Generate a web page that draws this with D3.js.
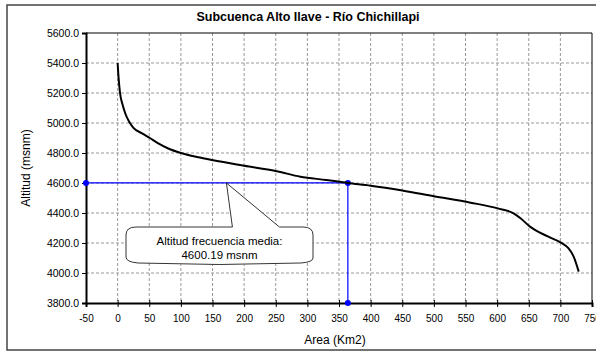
<html>
<head>
    <script src="https://d3js.org/d3.v7.min.js"></script>
</head>
<body style="margin:0; background:#fff;">
    <svg id="s" width="596" height="352"></svg>
    <script>
        // curva hipsometrica (area acumulada Km2, altitud msnm)
        const areas = [0, 1, 3.8, 8, 12, 18, 25, 40, 51, 65, 80, 100, 130, 160, 200, 250, 289, 330, 364,
                       400, 450, 500, 558, 601, 626, 637, 652, 681, 701, 713, 721, 729]
        const altitudes = [5400, 5330, 5200, 5120, 5065, 5010, 4968, 4928, 4900, 4862, 4830, 4800, 4770, 4745, 4715, 4680, 4642, 4620, 4600,
                           4582, 4550, 4512, 4469, 4431, 4398, 4365, 4309, 4242, 4202, 4164, 4109, 4009]
        const xTicks = d3.range(-50, 751, 50)
        const yTicks = d3.range(3800, 5601, 200)
        const mediaArea = 364
        const mediaAlt = 4600.19

        const FONT = "Liberation Sans, Arial, sans-serif"
        const L = 86, R = 592, T = 33, B = 303

        const svg = d3.select("svg")

        // outer frame
        svg.append("rect")
            .attr("x", 7).attr("y", 5)
            .attr("width", 600).attr("height", 345)
            .attr("fill", "#fff")
            .attr("stroke", "#444")
            .attr("stroke-width", 1.5)

        const x = d3.scaleLinear().domain([-50, 750]).range([L, R])
        const y = d3.scaleLinear().domain([3800, 5600]).range([B, T])

        // grid
        svg.append("g").selectAll("line")
            .data(xTicks.slice(1, -1))
            .enter().append("line")
            .attr("x1", d => x(d)).attr("x2", d => x(d))
            .attr("y1", T).attr("y2", B)
            .attr("stroke", "#999").attr("stroke-dasharray", "3,2")
        svg.append("g").selectAll("line")
            .data(yTicks.slice(1, -1))
            .enter().append("line")
            .attr("y1", d => y(d)).attr("y2", d => y(d))
            .attr("x1", L).attr("x2", R)
            .attr("stroke", "#999").attr("stroke-dasharray", "3,2")

        // top / right border
        svg.append("path")
            .attr("d", `M${L},${T}H${R}V${B}`)
            .attr("fill", "none").attr("stroke", "#000")

        // axes
        const yAxis = svg.append("g")
            .attr("transform", `translate(${L},0)`)
            .call(d3.axisLeft(y).tickValues(yTicks).tickFormat(d3.format(".1f")).tickSize(4).tickPadding(3))
        const xAxis = svg.append("g")
            .attr("transform", `translate(0,${B})`)
            .call(d3.axisBottom(x).tickValues(xTicks).tickFormat(d => String(d)).tickSize(4).tickPadding(8))
        ;[yAxis, xAxis].forEach(a => {
            a.select(".domain").attr("stroke-width", 2)
            a.selectAll("text").attr("font-family", FONT).attr("font-size", "10px").attr("fill", "#000")
        })
        yAxis.selectAll("text").attr("font-size", "10.5px")
        xAxis.selectAll(".tick line").attr("y1", -3)

        // blue guide lines
        svg.append("path")
            .attr("d", `M${x(-50)},${y(mediaAlt)}H${x(mediaArea)}V${y(3800)}`)
            .attr("fill", "none").attr("stroke", "#0000ff").attr("stroke-width", 1.2)
        svg.append("g").selectAll("circle")
            .data([[-50, mediaAlt], [mediaArea, mediaAlt], [mediaArea, 3800]])
            .enter().append("circle")
            .attr("cx", d => x(d[0])).attr("cy", d => y(d[1]))
            .attr("r", 3).attr("fill", "#0000ff")

        // curve
        const line = d3.line()
            .x((d, i) => x(areas[i]))
            .y(d => y(d))
            .curve(d3.curveMonotoneX)
        svg.append("path")
            .datum(altitudes)
            .attr("d", line)
            .attr("fill", "none")
            .attr("stroke", "#000")
            .attr("stroke-width", 2)

        // callout
        const ax = x(172), ay = y(mediaAlt)
        const bx0 = 126, bx1 = 313, by0 = 227, by1 = 265
        svg.append("path")
            .attr("d", `M${bx0},${by0 + 8} Q${bx0},${by0} ${bx0 + 10},${by0} H${ax + 6} L${ax},${ay} L${ax + 53},${by0} H${bx1 - 10} Q${bx1},${by0} ${bx1},${by0 + 8} V${by1 - 7} Q${bx1},${by1 - 3} ${bx1 - 12},${by1 - 2} Q${(bx0 + bx1) / 2},${by1 + 1} ${bx0 + 12},${by1 - 2} Q${bx0},${by1 - 3} ${bx0},${by1 - 8} Z`)
            .attr("fill", "#fff").attr("stroke", "#000").attr("stroke-width", 0.8)
        svg.append("text")
            .attr("x", (bx0 + bx1) / 2).attr("y", 245)
            .attr("font-family", FONT).attr("font-size", "11.5px")
            .attr("text-anchor", "middle")
            .text("Altitud frecuencia media:")
        svg.append("text")
            .attr("x", (bx0 + bx1) / 2).attr("y", 259)
            .attr("font-family", FONT).attr("font-size", "11.5px")
            .attr("text-anchor", "middle")
            .text("4600.19 msnm")

        // title
        svg.append("text")
            .attr("x", 308).attr("y", 21)
            .attr("font-family", FONT).attr("font-size", "12.5px")
            .attr("font-weight", "bold")
            .attr("text-anchor", "middle")
            .text("Subcuenca Alto Ilave - Río Chichillapi")

        // axis titles
        svg.append("text")
            .attr("x", 335).attr("y", 344)
            .attr("font-family", FONT).attr("font-size", "12px")
            .attr("text-anchor", "middle")
            .text("Area (Km2)")
        svg.append("text")
            .attr("transform", `translate(29.5,${(T + B) / 2}) rotate(-90)`)
            .attr("font-family", FONT).attr("font-size", "12px")
            .attr("text-anchor", "middle")
            .text("Altitud (msnm)")
    </script>
</body>
</html>
